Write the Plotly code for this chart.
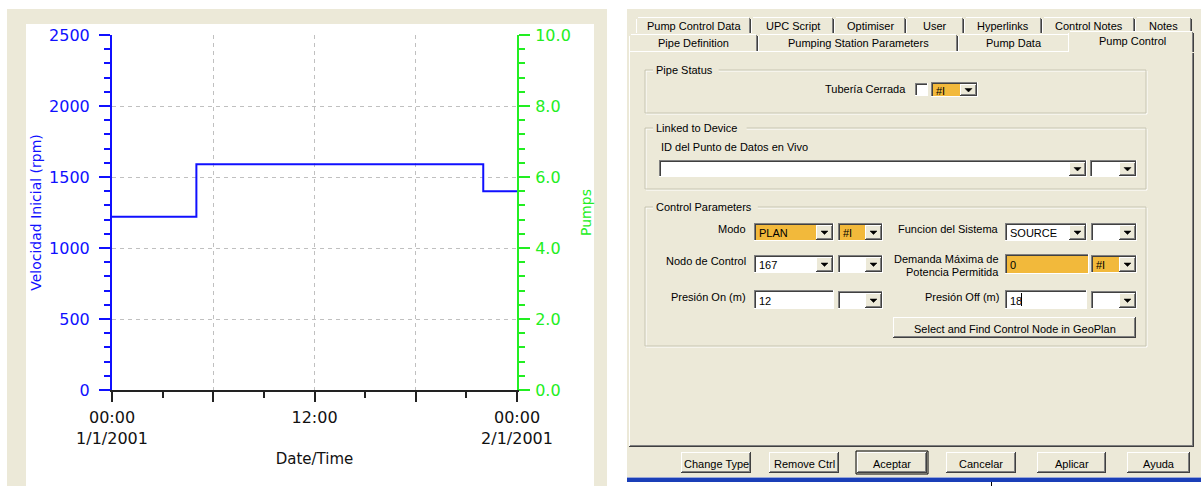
import plotly.graph_objects as go

W, H = 1201, 486

# ---------------- chart data ----------------
times = ["2001-01-01 00:00", "2001-01-01 05:00", "2001-01-01 22:00", "2001-01-02 00:00"]
speed_rpm = [1220, 1590, 1400, 1400]
rpm_ticks = [0, 500, 1000, 1500, 2000, 2500]
pump_ticks = [0, 2, 4, 6, 8, 10]
x_tickvals = ["2001-01-01 00:00", "2001-01-01 06:00", "2001-01-01 12:00",
              "2001-01-01 18:00", "2001-01-02 00:00"]
x_ticktext = ["00:00<br>1/1/2001", "", "12:00", "", "00:00<br>2/1/2001"]
x_minor = ["2001-01-01 03:00", "2001-01-01 09:00", "2001-01-01 15:00", "2001-01-01 21:00"]

# ---------------- dialog texts ----------------
tabs_row1 = ["Pump Control Data", "UPC Script", "Optimiser", "User",
             "Hyperlinks", "Control Notes", "Notes"]
tabs_row2 = ["Pipe Definition", "Pumping Station Parameters", "Pump Data"]
active_tab = "Pump Control"
group_titles = ["Pipe Status", "Linked to Device", "Control Parameters"]
buttons = ["Change Type", "Remove Ctrl", "Aceptar", "Cancelar", "Aplicar", "Ayuda"]

BLUE = "#1010FF"
GREEN = "#22EE22"
BEIGE = "#ECE9D8"
ORANGE = "#F2B93B"
CHART_FONT = "DejaVu Sans"
UI_FONT = "Liberation Sans"

shapes = []
annots = []


def X(px):
    return px / W


def Y(py):
    return 1 - py / H


def rect(x0, y0, x1, y1, fill=None, line=None, lw=1, layer="above"):
    shapes.append(dict(type="rect", xref="paper", yref="paper",
                       x0=X(x0), x1=X(x1), y0=Y(y1), y1=Y(y0),
                       fillcolor=fill or "rgba(0,0,0,0)",
                       line=dict(color=line or "rgba(0,0,0,0)", width=lw if line else 0),
                       layer=layer))


def hline(x0, x1, y, color, lw=1):
    y = y + 0.5
    shapes.append(dict(type="line", xref="paper", yref="paper",
                       x0=X(x0), x1=X(x1), y0=Y(y), y1=Y(y),
                       line=dict(color=color, width=lw), layer="above"))


def vline(x, y0, y1, color, lw=1):
    x = x + 0.5
    shapes.append(dict(type="line", xref="paper", yref="paper",
                       x0=X(x), x1=X(x), y0=Y(y0), y1=Y(y1),
                       line=dict(color=color, width=lw), layer="above"))


def text(x, y, s, anchor="center", size=11, color="black", family=UI_FONT):
    annots.append(dict(xref="paper", yref="paper", x=X(x), y=Y(y), text=s,
                       showarrow=False, xanchor=anchor, yanchor="middle",
                       borderpad=0, font=dict(family=family, size=size, color=color)))


def tri(cx, cy):
    p = "M {} {} L {} {} L {} {} Z".format(X(cx - 3.5), Y(cy - 1.5), X(cx + 3.5), Y(cy - 1.5),
                                           X(cx), Y(cy + 2))
    shapes.append(dict(type="path", xref="paper", yref="paper", path=p,
                       fillcolor="black", line=dict(color="black", width=0.5), layer="above"))


def sunken(x0, y0, x1, y1, fill="white"):
    rect(x0, y0, x1, y1, fill=fill)
    hline(x0, x1, y0, "#808080")
    vline(x0, y0, y1, "#808080")
    hline(x0 + 1, x1 - 1, y0 + 1, "#404040")
    vline(x0 + 1, y0 + 1, y1 - 1, "#404040")
    hline(x0, x1, y1 - 1, "#FFFFFF")
    vline(x1 - 1, y0, y1, "#FFFFFF")


def raised(x0, y0, x1, y1, dark_outer="#404040"):
    rect(x0, y0, x1, y1, fill=BEIGE)
    hline(x0, x1, y0, "#FFFFFF")
    vline(x0, y0, y1, "#FFFFFF")
    hline(x0, x1, y1 - 1, dark_outer)
    vline(x1 - 1, y0, y1, dark_outer)
    hline(x0 + 1, x1 - 1, y1 - 2, "#808080")
    vline(x1 - 2, y0 + 1, y1 - 1, "#808080")


def combo(x0, y0, x1, y1, fill="white", value=None):
    sunken(x0, y0, x1, y1, fill="white")
    bx0 = x1 - 18
    if fill != "white":
        rect(x0 + 2, y0 + 2, bx0, y1 - 1, fill=fill)
    raised(bx0, y0 + 2, x1 - 1, y1 - 1, dark_outer="#404040")
    tri((bx0 + x1 - 1) / 2, (y0 + y1) / 2 + 0.5)
    if value:
        text(x0 + 4, (y0 + y1) / 2 + 1, value, anchor="left")


def textbox(x0, y0, x1, y1, fill="white", value=None):
    sunken(x0, y0, x1, y1, fill=fill)
    if value:
        text(x0 + 4, (y0 + y1) / 2 + 1, value, anchor="left")


def groupbox(x0, y0, x1, y1, title):
    rect(x0 + 1, y0 + 1, x1 + 1, y1 + 1, line="#FFFFFF")
    rect(x0, y0, x1, y1, line="#C8C5B2")
    tw = len(title) * 5.6 + 4
    rect(x0 + 8, y0 - 6, x0 + 8 + tw, y0 + 3, fill=BEIGE)
    text(x0 + 10, y0, title, anchor="left")


def button(x0, y0, x1, y1, label, default=False):
    raised(x0, y0, x1, y1)
    if default:
        rect(x0 - 1, y0 - 1, x1 + 1, y1 + 1, line="#000000")
    text((x0 + x1) / 2, (y0 + y1) / 2 + 1, label)


# ---------------- left panel background ----------------
rect(7, 9, 607, 486, fill=BEIGE, layer="below")
rect(26, 24, 594, 486, fill="white", layer="below")

# ---------------- dialog ----------------
rect(627, 9, 1201, 478, fill=BEIGE)
# back tab row
row1_edges = [636, 751, 834, 906, 964, 1042, 1135, 1192]
for i, lab in enumerate(tabs_row1):
    a, b = row1_edges[i], row1_edges[i + 1]
    rect(a, 17, b, 33, fill=BEIGE)
    hline(a + 2, b - 2, 17, "#FFFFFF")
    vline(a, 19, 33, "#FFFFFF")
    vline(b - 1, 19, 33, "#404040")
    vline(b - 2, 18, 33, "#808080")
    text((a + b) / 2, 26, lab)
# front tab row
row2_edges = [629, 758, 958, 1070]
for i, lab in enumerate(tabs_row2):
    a, b = row2_edges[i], row2_edges[i + 1]
    rect(a, 34, b, 51, fill=BEIGE)
    hline(a + 2, b - 2, 34, "#FFFFFF")
    vline(a, 36, 51, "#FFFFFF")
    vline(b - 1, 36, 51, "#404040")
    vline(b - 2, 35, 51, "#808080")
    text((a + b) / 2, 43, lab)
# panel
rect(629, 51, 1194, 447, fill=BEIGE)
hline(629, 1194, 51, "#FFFFFF")
vline(629, 51, 447, "#FFFFFF")
hline(629, 1194, 446, "#404040")
vline(1193, 51, 447, "#404040")
hline(630, 1193, 445, "#808080")
vline(1192, 52, 446, "#808080")
# active tab
rect(1068, 31, 1194, 53, fill=BEIGE)
hline(1070, 1192, 31, "#FFFFFF")
vline(1068, 33, 52, "#FFFFFF")
vline(1193, 33, 52, "#404040")
vline(1192, 32, 52, "#808080")
text(1132, 41, active_tab)

# group boxes
groupbox(645, 70, 1146, 113, group_titles[0])
groupbox(645, 128, 1146, 189, group_titles[1])
groupbox(645, 207, 1146, 346, group_titles[2])

# Pipe Status
text(907, 89, "Tubería Cerrada", anchor="right")
sunken(915, 83, 928, 96)
combo(931, 82, 978, 97, fill=ORANGE, value="#I")

# Linked to Device
text(660, 147, "ID del Punto de Datos en Vivo", anchor="left")
combo(659, 160, 1087, 177)
combo(1090, 160, 1137, 177)

# Control Parameters
text(747, 229, "Modo", anchor="right")
combo(754, 223, 834, 241, fill=ORANGE, value="PLAN")
combo(838, 223, 883, 241, fill=ORANGE, value="#I")
text(1000, 229, "Funcion del Sistema", anchor="right")
combo(1005, 223, 1087, 241, value="SOURCE")
combo(1091, 223, 1137, 241)

text(747, 261, "Nodo de Control", anchor="right")
combo(754, 255, 834, 273, value="167")
combo(838, 255, 883, 273)
text(1000, 259, "Demanda Máxima de", anchor="right")
text(1000, 272, "Potencia Permitida", anchor="right")
textbox(1005, 254, 1089, 274, fill=ORANGE, value="0")
combo(1091, 255, 1137, 273, fill=ORANGE, value="#I")

text(747, 297, "Presión On (m)", anchor="right")
textbox(754, 290, 834, 309, value="12")
combo(838, 291, 883, 309)
text(1000, 297, "Presión Off (m)", anchor="right")
textbox(1005, 290, 1087, 309, value="18")
vline(1021, 293, 306, "#000000")
combo(1091, 291, 1137, 309)
button(893, 317, 1136, 338, "Select and Find Control Node in GeoPlan")

# bottom buttons
btn_edges = [(681, 751), (769, 839), (857, 927), (946, 1016), (1037, 1106), (1127, 1190)]
for (a, b), lab in zip(btn_edges, buttons):
    button(a, 452, b, 473, lab, default=(lab == "Aceptar"))

# status bar line
rect(627, 478, 1201, 482, fill="#1A3FB8")
rect(627, 477, 1201, 478, fill="#9AA8D8")
vline(991, 482, 486, "#000000")

# ---------------- chart ----------------
fig = go.Figure()
fig.add_trace(go.Scatter(x=times, y=speed_rpm, mode="lines", line_shape="hv",
                         line=dict(color=BLUE, width=2), showlegend=False,
                         hoverinfo="skip"))
fig.add_trace(go.Scatter(x=[], y=[], yaxis="y2", mode="lines", showlegend=False))

x0p, x1p, y0p, y1p = 112, 517, 35, 390

fig.update_layout(
    width=W, height=H, autosize=False,
    margin=dict(l=0, r=0, t=0, b=0, pad=0),
    paper_bgcolor="white", plot_bgcolor="white",
    showlegend=False,
    shapes=shapes, annotations=annots,
    xaxis=dict(
        domain=[X(x0p), X(x1p)], type="date", automargin=False,
        range=[times[0], times[-1]],
        tickmode="array", tickvals=x_tickvals, ticktext=x_ticktext,
        ticks="outside", ticklen=10, tickwidth=2, tickcolor="#222222",
        showline=True, linecolor="#222222", linewidth=2,
        showgrid=True, gridcolor="#C0C0C0", griddash="4px,4px", gridwidth=1,
        minor=dict(tickmode="array", tickvals=x_minor, ticks="outside",
                   ticklen=6, tickwidth=2, tickcolor="#222222", showgrid=False),
        tickfont=dict(family=CHART_FONT, size=16, color="#111111"),
        ticklabelstandoff=2,
        title=dict(text="Date/Time", standoff=6,
                   font=dict(family=CHART_FONT, size=15, color="#111111")),
        zeroline=False, fixedrange=True,
    ),
    yaxis=dict(
        domain=[Y(y1p), Y(y0p)], range=[0, 2500], automargin=False,
        tickmode="array", tickvals=rpm_ticks,
        ticks="outside", ticklen=11, tickwidth=2, tickcolor=BLUE,
        showline=True, linecolor=BLUE, linewidth=2,
        showgrid=True, gridcolor="#C0C0C0", griddash="4px,4px", gridwidth=1,
        minor=dict(dtick=100, ticks="outside", ticklen=6, tickwidth=2,
                   tickcolor=BLUE, showgrid=False),
        tickfont=dict(family=CHART_FONT, size=16, color=BLUE),
        ticklabelstandoff=6,
        title=dict(text="Velocidad Inicial (rpm)", standoff=4,
                   font=dict(family=CHART_FONT, size=14, color=BLUE)),
        zeroline=False, fixedrange=True,
    ),
    yaxis2=dict(
        overlaying="y", side="right", anchor="x", range=[0, 10], automargin=False,
        tickmode="array", tickvals=pump_ticks, tickformat=".1f",
        ticks="outside", ticklen=11, tickwidth=2, tickcolor=GREEN,
        showline=True, linecolor=GREEN, linewidth=2,
        showgrid=False,
        minor=dict(dtick=0.4, ticks="outside", ticklen=6, tickwidth=2,
                   tickcolor=GREEN, showgrid=False),
        tickfont=dict(family=CHART_FONT, size=16, color=GREEN),
        ticklabelstandoff=2,
        title=dict(text="Pumps", standoff=11,
                   font=dict(family=CHART_FONT, size=14, color=GREEN)),
        zeroline=False, fixedrange=True,
    ),
)

fig.write_html("out.html", config={"displayModeBar": False},
               post_script="document.body.style.margin='0';document.body.style.overflow='hidden';")
